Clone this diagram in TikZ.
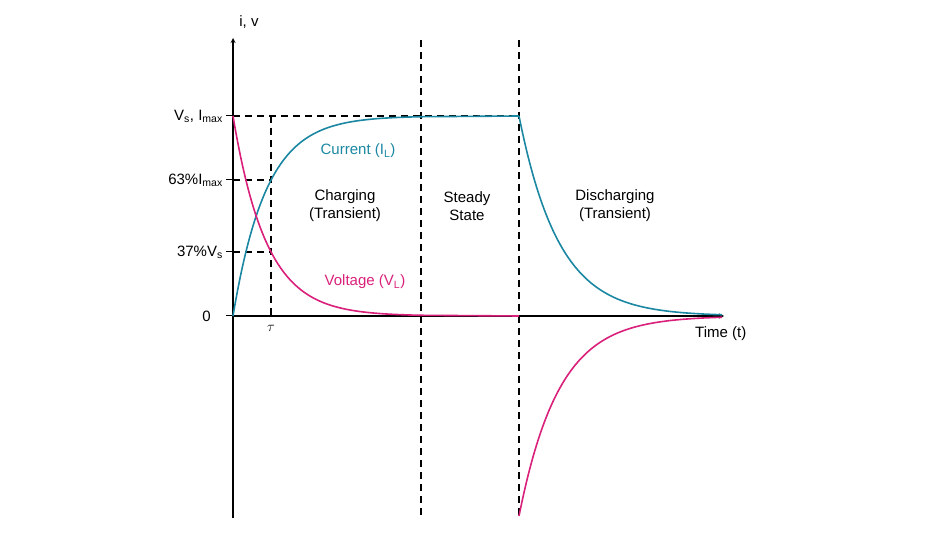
\documentclass[tikz,border=0pt]{standalone}
\usepackage{fontspec}
\setmainfont{Liberation Sans}
\begin{document}
\begin{tikzpicture}[x=1pt,y=-1pt,
  lbl/.style={font=\fontsize{15}{18}\selectfont, inner sep=1pt},
  dsh/.style={dashed, dash pattern=on 7pt off 5pt, line width=1.1pt},
  ax/.style={line width=1.2pt, -stealth},
  cur/.style={color=curc, line width=1.6pt},
  vol/.style={color=volc, line width=1.6pt}]
\definecolor{curc}{HTML}{1B87A2}
\definecolor{volc}{HTML}{D9207A}
\useasboundingbox (0,0) rectangle (927,540);
\coordinate (O) at (233,316);
\coordinate (Ytop) at (233,38);
\coordinate (Ybot) at (233,518);
\coordinate (Xend) at (724,316);
% dashed lines
\draw[dsh] (421,40) -- (421,518);
\draw[dsh] (519,40) -- (519,518);
\draw[dsh] (233,116) -- (519,116);
\draw[dsh] (233,180) -- (271,180);
\draw[dsh] (233,252) -- (271,252);
\draw[dsh] (271,116) -- (271,316);
% axes
\draw[ax] (Ybot) -- (Ytop);
\draw[ax] (O) -- (Xend);
% ticks
\foreach \yy in {116,180,252,316} \draw[line width=1pt] (226,\yy) -- (233,\yy);
% curves
\draw[cur] plot[domain=233:421,samples=120] (\x,{316-200*(1-exp(-(\x-233)/33.4))}) -- (519,116);
\draw[vol] plot[domain=233:421,samples=120] (\x,{316-200*exp(-(\x-233)/33.4)}) -- (519,316);
\draw[cur] plot[domain=519:722,samples=120] (\x,{316-200*exp(-(\x-519)/40)});
\draw[vol] plot[domain=519:722,samples=120] (\x,{316+200*exp(-(\x-519)/40)});
% labels
\node[lbl] (iv) at (249,22) {i, v};
\node[lbl,anchor=east] (vs) at (224,116) {V\textsubscript{s}, I\textsubscript{max}};
\node[lbl,anchor=east] (p63) at (224,180) {63\%I\textsubscript{max}};
\node[lbl,anchor=east] (p37) at (224,252) {37\%V\textsubscript{s}};
\node[lbl,anchor=east] (z) at (212,316) {0};
\node[lbl] (tau) at (271,328) {$\tau$};
\node[lbl,anchor=west] (time) at (694,334) {Time (t)};
\node[lbl,color=curc] (cl) at (358,151) {Current (I\textsubscript{L})};
\node[lbl,color=volc] (vl) at (365,282) {Voltage (V\textsubscript{L})};
\node[lbl,align=center] (ch) at (345,206) {Charging\\(Transient)};
\node[lbl,align=center] (ss) at (467,206) {Steady\\State};
\node[lbl,align=center] (dc) at (615,206) {Discharging\\(Transient)};
\end{tikzpicture}
\end{document}
